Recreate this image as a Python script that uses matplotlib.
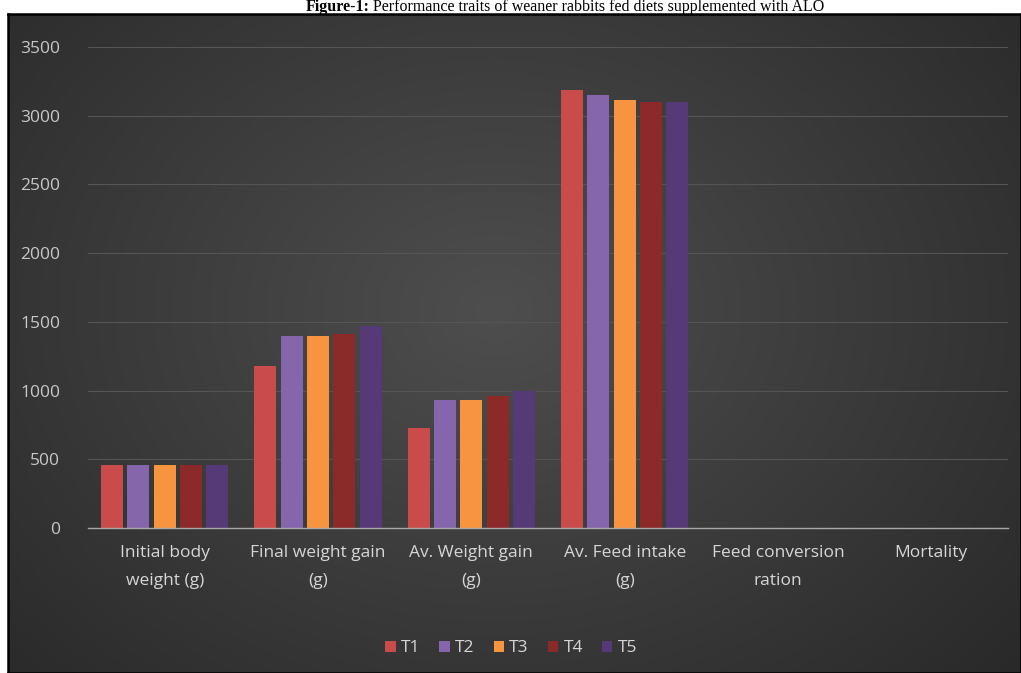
import numpy as np
import matplotlib.pyplot as plt
from matplotlib.colors import LinearSegmentedColormap

categories = ["Initial body\nweight (g)", "Final weight gain\n(g)", "Av. Weight gain\n(g)",
              "Av. Feed intake\n(g)", "Feed conversion\nration", "Mortality"]
treatments = ["T1", "T2", "T3", "T4", "T5"]
T1 = [460, 1180, 730, 3185, 2.9, 1]
T2 = [460, 1400, 935, 3150, 2.5, 0]
T3 = [460, 1400, 935, 3115, 2.4, 0]
T4 = [460, 1410, 960, 3100, 2.3, 0]
T5 = [460, 1470, 995, 3100, 2.2, 0]
yticks = [0, 500, 1000, 1500, 2000, 2500, 3000, 3500]

colors = ["#c94c4a", "#8566ad", "#f79440", "#8c2a2a", "#553a77"]

W, H = 1021, 673
fig = plt.figure(figsize=(W / 100, H / 100), dpi=100, facecolor="white")

# dark panel with radial gradient
x0, y0 = 8, 14
bg = fig.add_axes([x0 / W, 0, 1 - x0 / W, 1 - y0 / H])
yy, xx = np.mgrid[0:1:300j, 0:1:450j]
d = np.sqrt(((xx - 0.48) / 0.75) ** 2 + ((yy - 0.45) / 0.9) ** 2)
cmap = LinearSegmentedColormap.from_list("panel", ["#4e4e4e", "#3a3a3a", "#262626"])
bg.imshow(np.clip(d, 0, 1), cmap=cmap, aspect="auto", extent=[0, 1, 0, 1], vmin=0, vmax=1)
bg.set_xticks([])
bg.set_yticks([])
for s in bg.spines.values():
    s.set_color("black")
    s.set_linewidth(1.8)

ax = fig.add_axes([88 / W, 145 / H, 920 / W, 481 / H])
ax.patch.set_alpha(0)

x = np.arange(len(categories))
slot = 0.172
bw = 0.143
series = [T1, T2, T3, T4, T5]
for i, (name, vals) in enumerate(zip(treatments, series)):
    ax.bar(x + (i - 2) * slot, vals, width=bw, color=colors[i], label=name, zorder=3)

ax.set_xlim(-0.5, len(categories) - 0.5)
ax.set_ylim(0, 3500)
ax.set_yticks(yticks)
ax.yaxis.grid(True, color="#555555", linewidth=0.8, zorder=0)
ax.set_xticks(x)
ax.set_xticklabels(categories, fontsize=12.5, color="#d6d6d6", family="Open Sans", linespacing=2.0)
ax.tick_params(axis="y", labelsize=12.5, labelcolor="#c8c8c8", length=0, pad=20)
ax.tick_params(axis="x", length=0, pad=12)
for lab in ax.get_yticklabels():
    lab.set_family("Open Sans")
for side in ["top", "right", "left"]:
    ax.spines[side].set_visible(False)
ax.spines["bottom"].set_color("#a8a8a8")
ax.spines["bottom"].set_linewidth(1.0)
ax.spines["bottom"].set_zorder(4)

leg = ax.legend(loc="center", bbox_to_anchor=(0.46, -0.25), ncol=5, frameon=False,
                handlelength=0.6, handleheight=0.6, handletextpad=0.3, columnspacing=1.1,
                prop={"family": "Open Sans", "size": 12.5})
for t in leg.get_texts():
    t.set_color("#d6d6d6")

fig.text(370 / W, 1 - 7 / H, "Figure-1:", ha="right", va="center", fontsize=11.5,
         fontweight="bold", family="Liberation Serif")
fig.text(373 / W, 1 - 7 / H, "Performance traits of weaner rabbits fed diets supplemented with ALO",
         ha="left", va="center", fontsize=11.5, family="Liberation Serif")

fig.savefig("out.png", dpi=100, facecolor="white")
